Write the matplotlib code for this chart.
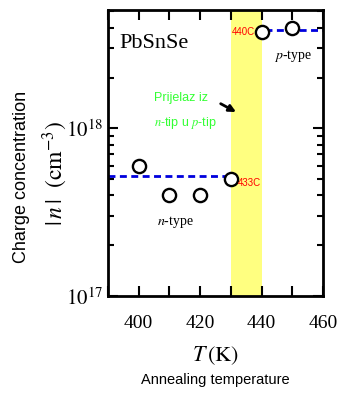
import numpy as np
import matplotlib
matplotlib.use('Agg')
import matplotlib.pyplot as plt
from matplotlib.ticker import MultipleLocator, FuncFormatter, LogLocator, NullFormatter

# data
temps = [400, 410, 420, 430, 440, 450]
conc = [6.0e17, 4.0e17, 4.0e17, 5.0e17, 3.75e18, 4.0e18]
n_level = 5.2e17
n_span = [390, 430]
p_level = 3.85e18
p_span = [441, 460]
band = [430, 440]

plt.rcParams['mathtext.fontset'] = 'stix'
serif = 'Liberation Serif'
sans = 'Liberation Sans'

fig = plt.figure(figsize=(3.38, 3.94), dpi=100)
ax = fig.add_axes([0.3195, 0.249, 0.636, 0.7259])

ax.axvspan(band[0], band[1], color='#ffff80', zorder=0, lw=0)
ax.plot(n_span, [n_level, n_level], '--', color='#0000dd', lw=2, dashes=(2.5, 1.6), zorder=1)
ax.plot(p_span, [p_level, p_level], '--', color='#0000dd', lw=2, dashes=(2.5, 1.6), zorder=1)
ax.plot(temps, conc, 'o', ms=9.5, mfc='white', mec='black', mew=1.7, zorder=3, clip_on=False)

ax.set_xlim(390, 460)
ax.set_yscale('log')
ax.set_ylim(1e17, 5.1e18)

ax.xaxis.set_major_locator(MultipleLocator(20))
ax.xaxis.set_minor_locator(MultipleLocator(10))
ax.yaxis.set_major_locator(LogLocator(base=10))
ax.yaxis.set_minor_locator(LogLocator(base=10, subs=np.arange(2, 10)))
ax.yaxis.set_minor_formatter(NullFormatter())
ax.yaxis.set_major_formatter(FuncFormatter(lambda v, p: r'$10^{%d}$' % round(np.log10(v))))

ax.tick_params(which='both', direction='in', top=True, right=True, width=1.5)
ax.tick_params(which='major', length=7)
ax.tick_params(which='minor', length=4)
ax.tick_params(axis='x', which='both', length=7, labelsize=14, pad=14)
ax.tick_params(axis='y', labelsize=15)
for lab in ax.get_xticklabels():
    lab.set_fontfamily(serif)
for sp in ax.spines.values():
    sp.set_linewidth(2)

ax.text(393.8, 3.0e18, 'PbSnSe', family=serif, fontsize=16)
ax.text(443.9, 2.6e18, r'$p$-type', family=serif, fontsize=10)
ax.text(406, 2.65e17, r'$n$-type', family=serif, fontsize=10)
ax.text(437.8, 3.75e18, '440C', color='red', fontsize=7, family=sans, ha='right', va='center')
ax.text(432.2, 4.7e17, '433C', color='red', fontsize=7, family=sans, ha='left', va='center')
ax.text(405, 1.45e18, 'Prijelaz iz', color='#33ff33', fontsize=9, family=sans)
ax.text(405, 1.03e18, r'$\it{n}$-tip u $\it{p}$-tip', color='#33ff33', fontsize=9, family=sans)
ax.annotate('', xy=(432.5, 1.23e18), xytext=(425.9, 1.43e18),
            arrowprops=dict(arrowstyle='-|>', color='black', lw=2, mutation_scale=10))

fig.text(0.163, 0.56, r'$|\,n\,|\ \ (\mathrm{cm}^{-3})$', rotation=90, fontsize=17,
         ha='center', va='center', family=serif)
fig.text(0.063, 0.55, 'Charge concentration', rotation=90, fontsize=13,
         ha='center', va='center', family=sans)
fig.text(0.638, 0.098, r'$T\,(\mathrm{K})$', fontsize=16, ha='center', va='center')
fig.text(0.638, 0.035, 'Annealing temperature', fontsize=10.5, ha='center', va='center',
         family=sans)

fig.savefig('out.png', dpi=100)
